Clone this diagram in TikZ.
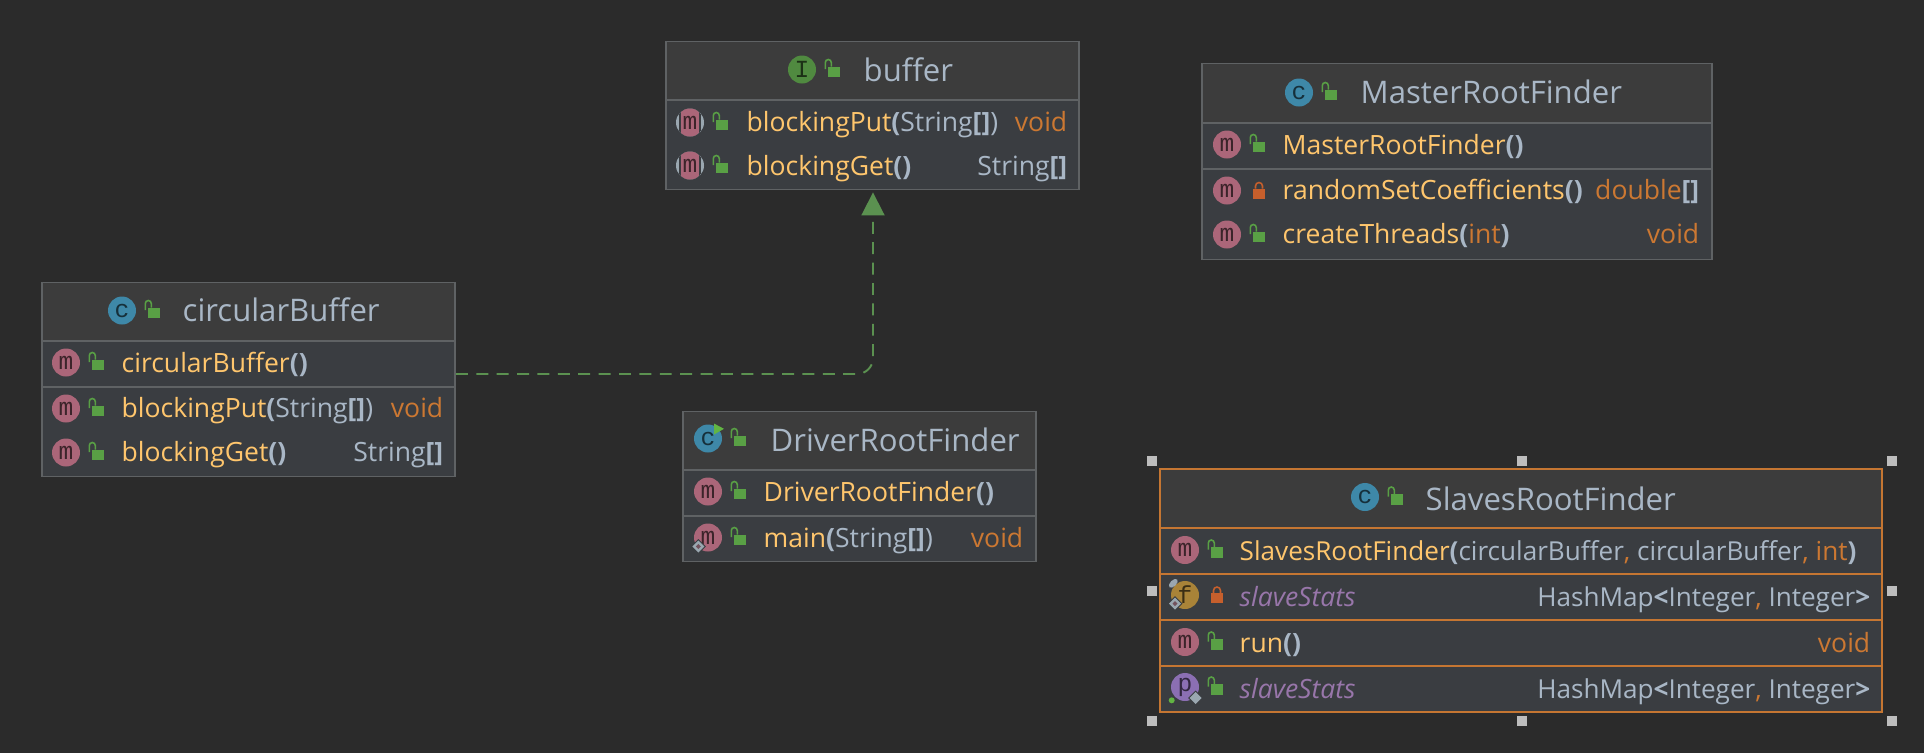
\documentclass[tikz,border=0pt]{standalone}
\usepackage{fontspec}
\setmainfont{Open Sans}
\setmonofont{Liberation Mono}
\usetikzlibrary{positioning,arrows.meta,calc}
\definecolor{canvas}{HTML}{2B2B2B}
\definecolor{headfill}{HTML}{3C3C3C}
\definecolor{rowfill}{HTML}{3A3D41}
\definecolor{edgegrey}{HTML}{5F6264}
\definecolor{edgesel}{HTML}{C57632}
\definecolor{txtgrey}{HTML}{A9B7C6}
\definecolor{txtyellow}{HTML}{FFC66D}
\definecolor{txtorange}{HTML}{CC7832}
\definecolor{txtpurple}{HTML}{9876AA}
\definecolor{badgem}{HTML}{AB6679}
\definecolor{badgec}{HTML}{3E88A8}
\definecolor{badgei}{HTML}{508A40}
\definecolor{badgef}{HTML}{A98338}
\definecolor{badgep}{HTML}{8B6FB3}
\definecolor{markgrey}{HTML}{9AA7B0}
\definecolor{lockgreen}{HTML}{59A045}
\definecolor{lockred}{HTML}{C65F2C}
\definecolor{rungreen}{HTML}{62B543}
\definecolor{arrowgreen}{HTML}{5B9150}
\definecolor{handlegrey}{HTML}{BDBDBD}
\newcommand{\pn}[1]{\textcolor{txtgrey}{\textbf{#1}}}
\newcommand{\kw}[1]{\textcolor{txtorange}{#1}}

\begin{document}
\begin{tikzpicture}[
  % 1 cm on the page is 100 px of the reference
  umlbox/.style={draw=edgegrey, line width=0.55pt, fill=rowfill, anchor=north west, inner sep=0pt},
  umlhead/.style={fill=headfill, anchor=north west, inner sep=0pt},
  umlsel/.style={umlbox, draw=edgesel},
  rule/.style={draw=edgegrey, line width=0.55pt},
  rulesel/.style={draw=edgesel, line width=0.55pt},
  title/.style={font=\fontsize{8.85}{10}\selectfont, text=txtgrey, anchor=base west, inner sep=0pt},
  member/.style={font=\fontsize{7.55}{9}\selectfont, text=txtyellow, anchor=base west, inner sep=0pt},
  typename/.style={font=\fontsize{7.55}{9}\selectfont, text=txtgrey, anchor=base east, inner sep=0pt},
  tight/.style={font=\fontsize{7.43}{9}\selectfont},
  badge/.style={circle, minimum size=0.28cm, inner sep=0pt, font=\ttfamily\fontsize{7}{8}\selectfont},
  mbadge/.style={badge, fill=badgem, text=badgem!35!black},
  cbadge/.style={badge, fill=badgec, text=badgec!35!black},
  ibadge/.style={badge, fill=badgei, text=badgei!35!black},
  fbadge/.style={badge, fill=badgef, text=badgef!35!black},
  pbadge/.style={badge, fill=badgep, text=badgep!35!black},
  absbadge/.style={badge, fill=markgrey, text=badgem!35!black, path picture={
    \fill[rowfill] ($(path picture bounding box.center)+(-0.11,-0.2)$) rectangle +(0.22,0.4);
    \fill[badgem] ($(path picture bounding box.center)+(-0.09,-0.2)$) rectangle +(0.18,0.4);
  }},
  grip/.style={fill=handlegrey, minimum size=0.1cm, inner sep=0pt},
  arr/.style={-{Triangle[length=0.23cm, width=0.23cm]}, draw=arrowgreen, line width=0.55pt, dash pattern=on 3.4pt off 2.4pt, rounded corners=0.16cm, shorten >=0.02cm},
  openlock/.pic={
    \fill[lockgreen] (0.007,-0.075) rectangle (0.127,0.03);
    \draw[lockgreen, line width=0.45pt] (-0.017,0.005) -- (-0.017,0.07) arc (180:0:0.03) -- (0.043,0.03);
  },
  shutlock/.pic={
    \fill[lockred] (-0.06,-0.08) rectangle (0.06,0.02);
    \draw[lockred, line width=0.45pt] (-0.035,0.02) -- (-0.035,0.045) arc (180:0:0.035) -- (0.035,0.02);
  },
  hollowmark/.pic={
    \fill[rowfill] (-0.075,0) -- (0,0.075) -- (0.075,0) -- (0,-0.075) -- cycle;
    \fill[markgrey] (-0.06,0) -- (0,0.06) -- (0.06,0) -- (0,-0.06) -- cycle;
    \fill[badgem!50!rowfill] (-0.025,0) -- (0,0.025) -- (0.025,0) -- (0,-0.025) -- cycle;
  },
  solidmark/.pic={
    \fill[rowfill] (-0.075,0) -- (0,0.075) -- (0.075,0) -- (0,-0.075) -- cycle;
    \fill[markgrey] (-0.06,0) -- (0,0.06) -- (0.06,0) -- (0,-0.06) -- cycle;
  }
]
\useasboundingbox (0,0) rectangle (19.24,-7.52);
\fill[canvas] (-0.1,0.1) rectangle (19.34,-7.62);

% ---------- buffer ----------
\node[umlbox, minimum width=4.13cm, minimum height=1.48cm] (buffer) at (6.65,-0.405) {};
\node[umlhead, minimum width=4.11cm, minimum height=0.57cm] (bufferhead) at ($(buffer.north west)+(0.01,-0.01)$) {};
\draw[rule] (bufferhead.south west) -- (bufferhead.south east);
\node[ibadge] (bufferbadge) at ($(buffer.north west)+(1.37,-0.29)$) {I};
\pic at ($(bufferbadge)+(0.25,0)$) {openlock};
\node[title] (buffertitle) at ($(buffer.north west)+(1.98,-0.41)$) {buffer};
\node[absbadge] (putbadge) at ($(buffer.north west)+(0.25,-0.82)$) {m};
\pic at ($(putbadge)+(0.25,0)$) {openlock};
\node[member] (putname) at ($(buffer.north west)+(0.81,-0.91)$) {blockingPut\pn{(}\textcolor{txtgrey}{String\textbf{[]})}};
\node[typename] (puttype) at ($(buffer.north east)+(-0.12,-0.91)$) {\kw{void}};
\node[absbadge] (getbadge) at ($(buffer.north west)+(0.25,-1.25)$) {m};
\pic at ($(getbadge)+(0.25,0)$) {openlock};
\node[member] (getname) at ($(buffer.north west)+(0.81,-1.35)$) {blockingGet\pn{()}};
\node[typename] (gettype) at ($(buffer.north east)+(-0.12,-1.35)$) {String\textbf{[]}};

% ---------- MasterRootFinder ----------
\node[umlbox, minimum width=5.1cm, minimum height=1.96cm] (master) at (12.01,-0.625) {};
\node[umlhead, minimum width=5.08cm, minimum height=0.58cm] (masterhead) at ($(master.north west)+(0.01,-0.01)$) {};
\draw[rule] (masterhead.south west) -- (masterhead.south east);
\draw[rule] ($(masterhead.south west)+(0,-0.46)$) -- ($(masterhead.south east)+(0,-0.46)$);
\node[cbadge] (masterbadge) at ($(master.north west)+(0.98,-0.3)$) {c};
\pic at ($(masterbadge)+(0.25,0)$) {openlock};
\node[title] (mastertitle) at ($(master.north west)+(1.59,-0.41)$) {MasterRootFinder};
\node[mbadge] (mctorbadge) at ($(master.north west)+(0.26,-0.82)$) {m};
\pic at ($(mctorbadge)+(0.25,0)$) {openlock};
\node[member] (mctorname) at ($(master.north west)+(0.81,-0.92)$) {MasterRootFinder\pn{()}};
\node[mbadge] (randbadge) at ($(master.north west)+(0.26,-1.28)$) {m};
\pic at ($(randbadge)+(0.32,0)$) {shutlock};
\node[member] (randname) at ($(master.north west)+(0.81,-1.37)$) {randomSetCoefficients\pn{()}};
\node[typename] (randtype) at ($(master.north east)+(-0.13,-1.37)$) {\kw{double}\textbf{[]}};
\node[mbadge] (threadbadge) at ($(master.north west)+(0.26,-1.72)$) {m};
\pic at ($(threadbadge)+(0.25,0)$) {openlock};
\node[member] (threadname) at ($(master.north west)+(0.81,-1.81)$) {createThreads\pn{(}\kw{int}\pn{)}};
\node[typename] (threadtype) at ($(master.north east)+(-0.13,-1.81)$) {\kw{void}};

% ---------- circularBuffer ----------
\node[umlbox, minimum width=4.13cm, minimum height=1.94cm] (circular) at (0.41,-2.815) {};
\node[umlhead, minimum width=4.11cm, minimum height=0.57cm] (circularhead) at ($(circular.north west)+(0.01,-0.01)$) {};
\draw[rule] (circularhead.south west) -- (circularhead.south east);
\draw[rule] ($(circularhead.south west)+(0,-0.46)$) -- ($(circularhead.south east)+(0,-0.46)$);
\node[cbadge] (circularbadge) at ($(circular.north west)+(0.81,-0.29)$) {c};
\pic at ($(circularbadge)+(0.25,0)$) {openlock};
\node[title] (circulartitle) at ($(circular.north west)+(1.41,-0.4)$) {circularBuffer};
\node[mbadge] (cctorbadge) at ($(circular.north west)+(0.25,-0.81)$) {m};
\pic at ($(cctorbadge)+(0.25,0)$) {openlock};
\node[member] (cctorname) at ($(circular.north west)+(0.8,-0.91)$) {circularBuffer\pn{()}};
\node[mbadge] (cputbadge) at ($(circular.north west)+(0.25,-1.27)$) {m};
\pic at ($(cputbadge)+(0.25,0)$) {openlock};
\node[member] (cputname) at ($(circular.north west)+(0.8,-1.36)$) {blockingPut\pn{(}\textcolor{txtgrey}{String\textbf{[]})}};
\node[typename] (cputtype) at ($(circular.north east)+(-0.12,-1.36)$) {\kw{void}};
\node[mbadge] (cgetbadge) at ($(circular.north west)+(0.25,-1.71)$) {m};
\pic at ($(cgetbadge)+(0.25,0)$) {openlock};
\node[member] (cgetname) at ($(circular.north west)+(0.8,-1.8)$) {blockingGet\pn{()}};
\node[typename] (cgettype) at ($(circular.north east)+(-0.12,-1.8)$) {String\textbf{[]}};

% ---------- DriverRootFinder ----------
\node[umlbox, minimum width=3.53cm, minimum height=1.5cm] (driver) at (6.82,-4.105) {};
\node[umlhead, minimum width=3.51cm, minimum height=0.57cm] (driverhead) at ($(driver.north west)+(0.01,-0.01)$) {};
\draw[rule] (driverhead.south west) -- (driverhead.south east);
\draw[rule] ($(driverhead.south west)+(0,-0.46)$) -- ($(driverhead.south east)+(0,-0.46)$);
\node[cbadge] (driverbadge) at ($(driver.north west)+(0.26,-0.28)$) {c};
\fill[rungreen] ($(driverbadge)+(0.06,0.15)$) -- ($(driverbadge)+(0.16,0.097)$) -- ($(driverbadge)+(0.06,0.04)$) -- cycle;
\pic at ($(driverbadge)+(0.25,0)$) {openlock};
\node[title] (drivertitle) at ($(driver.north west)+(0.88,-0.41)$) {DriverRootFinder};
\node[mbadge] (dctorbadge) at ($(driver.north west)+(0.26,-0.81)$) {m};
\pic at ($(dctorbadge)+(0.25,0)$) {openlock};
\node[member] (dctorname) at ($(driver.north west)+(0.81,-0.91)$) {DriverRootFinder\pn{()}};
\node[mbadge] (mainbadge) at ($(driver.north west)+(0.26,-1.27)$) {m};
\pic at ($(mainbadge)+(0.25,0)$) {openlock};
\pic at ($(mainbadge)+(-0.097,-0.09)$) {hollowmark};
\node[member] (mainname) at ($(driver.north west)+(0.81,-1.37)$) {main\pn{(}\textcolor{txtgrey}{String\textbf{[]})}};
\node[typename] (maintype) at ($(driver.north east)+(-0.13,-1.37)$) {\kw{void}};

% ---------- SlavesRootFinder ----------
\node[umlsel, minimum width=7.22cm, minimum height=2.43cm] (slaves) at (11.59,-4.68) {};
\node[umlhead, minimum width=7.2cm, minimum height=0.58cm] (slaveshead) at ($(slaves.north west)+(0.01,-0.01)$) {};
\draw[rulesel] (slaveshead.south west) -- (slaveshead.south east);
\draw[rulesel] ($(slaveshead.south west)+(0,-0.46)$) -- ($(slaveshead.south east)+(0,-0.46)$);
\draw[rulesel] ($(slaveshead.south west)+(0,-0.92)$) -- ($(slaveshead.south east)+(0,-0.92)$);
\draw[rulesel] ($(slaveshead.south west)+(0,-1.38)$) -- ($(slaveshead.south east)+(0,-1.38)$);
\node[cbadge] (slavesbadge) at ($(slaves.north west)+(2.06,-0.29)$) {c};
\pic at ($(slavesbadge)+(0.25,0)$) {openlock};
\node[title] (slavestitle) at ($(slaves.north west)+(2.66,-0.42)$) {SlavesRootFinder};
\node[mbadge] (sctorbadge) at ($(slaves.north west)+(0.26,-0.82)$) {m};
\pic at ($(sctorbadge)+(0.25,0)$) {openlock};
\node[member, tight] (sctorname) at ($(slaves.north west)+(0.8,-0.92)$) {SlavesRootFinder\pn{(}\textcolor{txtgrey}{circularBuffer}\kw{,} \textcolor{txtgrey}{circularBuffer}\kw{,} \kw{int}\pn{)}};
\node[fbadge] (fieldbadge) at ($(slaves.north west)+(0.26,-1.27)$) {f};
\pic at ($(fieldbadge)+(0.32,0)$) {shutlock};
\fill[markgrey] ($(fieldbadge)+(-0.117,0.117)$) ellipse [x radius=0.055, y radius=0.03, rotate=45];
\pic at ($(fieldbadge)+(-0.1,-0.087)$) {hollowmark};
\node[member, text=txtpurple] (fieldname) at ($(slaves.north west)+(0.8,-1.38)$) {\itshape slaveStats};
\node[typename, tight] (fieldtype) at ($(slaves.north east)+(-0.12,-1.38)$) {HashMap\textbf{<}Integer\kw{,} Integer\textbf{>}};
\node[mbadge] (runbadge) at ($(slaves.north west)+(0.26,-1.74)$) {m};
\pic at ($(runbadge)+(0.25,0)$) {openlock};
\node[member] (runname) at ($(slaves.north west)+(0.8,-1.84)$) {run\pn{()}};
\node[typename] (runtype) at ($(slaves.north east)+(-0.12,-1.84)$) {\kw{void}};
\node[pbadge] (propbadge) at ($(slaves.north west)+(0.26,-2.19)$) {p};
\pic at ($(propbadge)+(0.25,0)$) {openlock};
\pic at ($(propbadge)+(0.107,-0.11)$) {solidmark};
\fill[rungreen] ($(propbadge)+(-0.133,-0.133)$) circle (0.03);
\node[member, text=txtpurple] (propname) at ($(slaves.north west)+(0.8,-2.3)$) {\itshape slaveStats};
\node[typename, tight] (proptype) at ($(slaves.north east)+(-0.12,-2.3)$) {HashMap\textbf{<}Integer\kw{,} Integer\textbf{>}};

% selection grips around the selected class
\node[grip] (gripnw) at (11.52,-4.61) {};
\node[grip] (gripn)  at (15.22,-4.61) {};
\node[grip] (gripne) at (18.92,-4.61) {};
\node[grip] (gripw)  at (11.52,-5.91) {};
\node[grip] (gripe)  at (18.92,-5.91) {};
\node[grip] (gripsw) at (11.52,-7.21) {};
\node[grip] (grips)  at (15.22,-7.21) {};
\node[grip] (gripse) at (18.92,-7.21) {};

% ---------- realisation arrow ----------
\coordinate (bend) at (8.73,-3.74);
\draw[arr] (circular.east |- bend) -- (bend) -- (bend |- buffer.south);

\end{tikzpicture}
\end{document}
